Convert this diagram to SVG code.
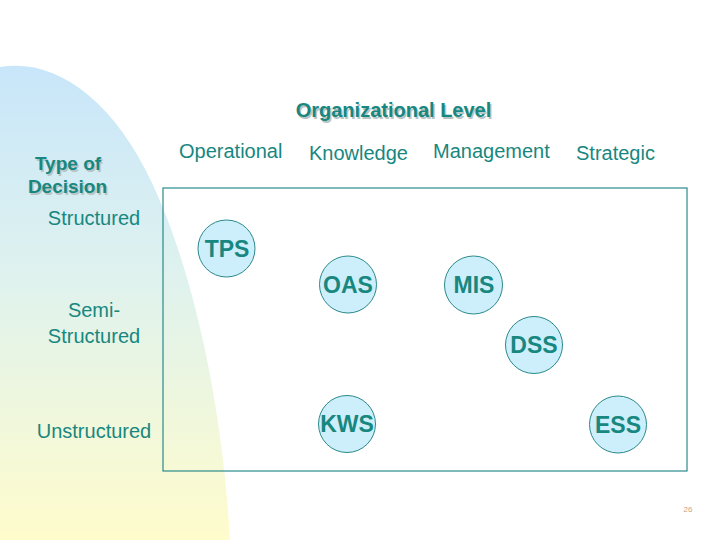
<svg xmlns="http://www.w3.org/2000/svg" width="720" height="540" viewBox="0 0 720 540">
<defs>
<linearGradient id="bg" x1="0" y1="0" x2="0" y2="1">
<stop offset="0" stop-color="#c8e6fa"/>
<stop offset="0.45" stop-color="#dff2ee"/>
<stop offset="1" stop-color="#fffccc"/>
</linearGradient>
<style>
text{font-family:"Liberation Sans",Arial,sans-serif;fill:#17877f}
.lbl{font-size:20px}
.hd{font-size:20px;font-weight:bold}
.hd2{font-size:19px;font-weight:bold}
.sh{fill:#b8c4c4}
.ac{font-size:23px;font-weight:bold;text-anchor:middle}
.node circle{fill:#cdeefb;stroke:#2a8a8a;stroke-width:1}
.pg{font-size:8px;fill:#d4a07a}
</style>
</defs>
<rect width="720" height="540" fill="#ffffff"/>
<path d="M0,67 C55,58 112,98 152,183 C192,268 222,400 230,540 L0,540 Z" fill="url(#bg)"/>
<rect x="163" y="188" width="524" height="283" fill="none" stroke="#2a8a8a" stroke-width="1.2"/>
<g id="header">
<text class="hd sh" x="395" y="118.5" text-anchor="middle">Organizational Level</text>
<text class="hd" x="393.5" y="117" text-anchor="middle">Organizational Level</text>
</g>
<g id="typeOfDecision">
<text class="hd2 sh" x="69.5" y="171.5" text-anchor="middle">Type of</text>
<text class="hd2" x="68" y="170" text-anchor="middle">Type of</text>
<text class="hd2 sh" x="69" y="194.5" text-anchor="middle">Decision</text>
<text class="hd2" x="67.5" y="193" text-anchor="middle">Decision</text>
</g>
<g id="columns">
<text class="lbl" x="179" y="158">Operational</text>
<text class="lbl" x="309" y="160">Knowledge</text>
<text class="lbl" x="433" y="158">Management</text>
<text class="lbl" x="576" y="160">Strategic</text>
</g>
<g id="rows">
<text class="lbl" x="94" y="225" text-anchor="middle">Structured</text>
<text class="lbl" x="94" y="317" text-anchor="middle">Semi-</text>
<text class="lbl" x="94" y="343" text-anchor="middle">Structured</text>
<text class="lbl" x="94" y="438" text-anchor="middle">Unstructured</text>
</g>
<g id="connectors"></g>
<g id="TPS" class="node"><circle cx="226.5" cy="248.5" r="28.5"/><text class="ac" x="227" y="256.5">TPS</text></g>
<g id="OAS" class="node"><circle cx="348" cy="284.5" r="28.5"/><text class="ac" x="348" y="292.5">OAS</text></g>
<g id="MIS" class="node"><circle cx="473.5" cy="285" r="29"/><text class="ac" x="474" y="293">MIS</text></g>
<g id="DSS" class="node"><circle cx="534" cy="345" r="28.5"/><text class="ac" x="534" y="353">DSS</text></g>
<g id="KWS" class="node"><circle cx="347" cy="424" r="28.5"/><text class="ac" x="347" y="432">KWS</text></g>
<g id="ESS" class="node"><circle cx="618" cy="424.5" r="28.5"/><text class="ac" x="618" y="432.5">ESS</text></g>
<text class="pg" x="688" y="512" text-anchor="middle">26</text>
</svg>
